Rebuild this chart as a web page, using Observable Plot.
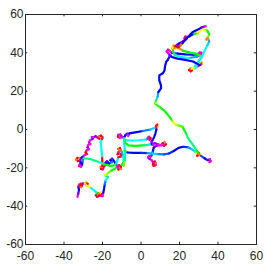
<!DOCTYPE html>
<html><head><meta charset="utf-8">
<script src="https://cdn.jsdelivr.net/npm/d3@7"></script>
<script src="https://cdn.jsdelivr.net/npm/@observablehq/plot@0.6"></script>
<style>body{margin:0;background:#fff} #chart svg{display:block}</style>
</head><body><div id="chart"></div>
<script>
const xTicks = [-60,-40,-20,0,20,40,60];
const yTicks = [-60,-40,-20,0,20,40,60];
// [x, y, hue]
const trackSW = [[-33,-35.2,300],[-32.6,-33.5,260],[-32.2,-31.5,240],[-32.5,-30,250],
[-32.2,-28.8,300],[-31.2,-28.3,330],[-30.6,-29.2,0],[-31.2,-30,30],[-31.8,-29.2,0],
[-30.2,-28.2,270],[-29.2,-28,60],[-28.3,-27.6,30],[-27.7,-28.4,0],[-28.5,-29,60],
[-26,-30.5,180],[-23.5,-32.5,180],
[-22.6,-33.2,120],[-23.5,-34.2,0],[-22.8,-35.2,330],[-21.8,-34.6,0],[-22,-33.4,30],[-21,-33,60],[-20.3,-33.6,0],[-20.8,-34.5,330],[-20,-34.8,300],
[-19.6,-33,240],[-19.2,-31,240],[-18.8,-28.5,210],[-18.3,-26.5,180],
[-17.2,-24.8,150],[-18.8,-23.8,60],[-17.4,-23,90],
[-15.5,-21.5,120],[-13.5,-20.5,120],
[-12.2,-19.2,0],[-11.4,-18.6,330],[-10.5,-19.3,0],[-10.7,-20.6,30],[-11.7,-20.9,0],[-12,-20,300]];
const trackW = [[-12,-20,300],[-13,-18,240],[-14.2,-16.2,240],[-15,-15.2,270],[-15.9,-16,240],[-15,-17,210],[-16.5,-17.8,240],[-17.6,-16.5,270],[-18.4,-17.2,240],[-17.5,-18.2,270],
[-19.2,-19,0],[-19.8,-20.8,330],[-20.8,-20.6,0],[-20.9,-19.5,30],[-20,-19.1,0],
[-20.2,-14,180],[-20.7,-9,180],[-21,-6,180],
[-20.2,-5,0],[-20,-4,330],[-20.8,-3.2,0],[-21.8,-3.6,30],[-21.6,-4.8,0],[-22.5,-4.3,330],
[-23.6,-3.5,270],[-24.8,-4.2,300],[-25.6,-3.8,300],[-25.2,-5,270],[-26.3,-5.5,300],[-27,-6.7,280],[-26.3,-7.6,300],[-27.4,-8,300],[-27.8,-9.3,270],[-27.1,-10.3,300],[-28.2,-10.8,330],[-28.8,-12,0],[-28,-12.8,330],[-29.3,-13.3,300],
[-30.5,-14.4,240],[-31.3,-15.2,270],[-32.2,-15,30],[-33.1,-14.8,0],[-33.6,-15.8,30],[-32.8,-16.5,0],[-31.7,-16.2,270],[-31.3,-17.2,240],[-31.8,-18.2,300],[-32.2,-19.1,330],[-31.2,-19.4,300],[-30.6,-18.4,240],[-30.4,-16.5,210],[-29.8,-15,150],
[-26,-15.5,150],[-22,-17,170],[-19.2,-18.1,180]];
const trackMid = [[-19.2,-18.1,120],[-15.8,-19,120],[-13.5,-18.6,150],[-12.5,-17,180],
[-11.8,-14.5,0],[-10.6,-14.2,330],[-10.4,-13,0],[-11.4,-12.3,30],[-12.2,-13,0],[-11.6,-11.6,300],[-10.6,-10.8,330],[-10.9,-9.7,0],[-11.8,-10.2,30],
[-10,-11.5,200],[-9.2,-14,180],[-9,-17,120],[-10,-18.5,120],[-9,-18.8,90],[-8.4,-16,150],[-8.3,-13,180],
[-8.5,-10,180],[-8.8,-6,180],[-8.9,-4.2,200],
[-10.2,-3.5,270],[-10.8,-2.6,300],[-11.8,-2.8,330],[-12,-3.8,0],[-11,-4.3,300],
[-8.7,-4,240],[-8,-2.8,250],[-7.2,-2.2,270],[-6.4,-2.6,300],[-6.7,-3.4,300],[-6,-2,270]];
const trackCenter = [[-6,-2,240],[-3,-1.5,240],[1,-0.8,210],[5,0,190],[7.5,1,180],
[8.8,1.5,60],[8.5,2.6,0],[7.9,2,330],
[8,0,240],[7.5,-2,240],[6.8,-4,240],[6,-5.5,250],
[5.5,-6.5,270],[5.5,-7.8,300],[6.5,-8.2,300],[7,-7,270],
[9,-7.8,300],[10.5,-8.2,330],[11.2,-7.2,0],[12.3,-6.8,30],[13,-7.8,0],[12,-8.5,330],[11,-8,300],
[8,-8.5,270],[6.6,-9.5,240],[6,-12,210],[5.5,-13.5,270],
[5,-14.2,300],[4.3,-13.8,330],[3.6,-14.5,300],[4.3,-15.2,270],
[5.5,-16,300],[6.2,-17,330],[7.2,-16.7,0],[7.6,-17.6,30],[7.3,-18.7,0],[6.5,-19,330],[6.2,-18,0],[7.6,-18.5,300]];
const trackCyan = [[-8.7,-5.5,180],[-5,-5.8,180],[-1,-5.6,180],[2.8,-5.2,190],[3.5,-4.3,300],[4.2,-3.8,330],[5,-4.5,0],[4.5,-5.4,330],[3.6,-5,300]];
const trackGreen = [[-8.8,-4.5,150],[-8.2,-7,120],[-6.5,-8.3,120],[-3,-8.5,120],[1,-8.3,150],[4,-8,180],[5.5,-7.5,240]];
const trackEast = [[-8.5,-11,120],[-7,-12,240],[-4,-12.2,240],[0,-12.2,230],[3.5,-12.3,200],[6,-12.6,190],[9,-12.8,210],[12,-13,220],[14.5,-12.5,230],[17,-11.2,240],[19.5,-9.6,240],[22,-9,230],[24.5,-9.3,200],[26.5,-10.3,190],[28,-11.5,180],
[28.8,-12.2,60],[29.3,-11.8,30],[30.2,-12.3,0],[30.1,-13.4,330],[29.2,-13.6,0],[29.8,-12.8,30],
[31.2,-13.8,220],[33,-15,240],[34.5,-16,260],[35.8,-15.6,300],[36.2,-16.5,330],[35.6,-17,300]];
const trackNorth = [[30,-12.3,120],[28.6,-10.5,150],[27,-8,150],[25.5,-6,150],[24.4,-4.5,150],[23.4,-2,120],[22.6,-0.5,120],[21.5,1.5,100],[19.5,2.1,90],[18,2.5,60],[17.2,3.2,60],[16.2,4.5,90],[15.6,5.6,120],[13.8,7.8,120],[12.1,9.9,120],[10,11.5,110],[7.3,13.4,90],[7.8,15.1,150],[8.6,17,200],[9,19.5,240],[10.4,21.5,240],[10.4,23,240],[9.5,25.6,240],[9.5,28.2,240],[11.5,29.5,240],[12.2,30.8,240],[12.5,33,240],[13,35.1,240],[14,36.5,250],[15,38.3,270]];
const trackTop = [[15,38.3,270],[14.2,39.8,300],[13.2,40.6,300],[14,41.6,330],[15,41,300],[16,40,270],
[19,39.6,240],[23,39.2,240],[27,39,250],[29.5,39.2,270],[30.5,40.2,300],[31.5,40,330],[31.3,39,300],
[29,38,200],[25,37.3,180],[21,37.8,170],[17.5,38.8,150],[16.8,40.5,120],
[16.2,42.5,60],[16.8,43.8,30],[17.8,43.5,0],[17.5,42.5,30],[18.5,42.6,60],[19.3,43.5,0],[18.8,44.2,330],[18.2,43.4,0],[19.6,42.5,30],
[22,41,120],[26,40,120],[29,39.5,120],[31,38.3,150],
[31,37,180],[30,36,150],[29.8,35,120],[30.7,34.5,60],[31.5,35,30],[31.3,34,0],[30.5,33.6,330],
[29,32.5,180],[27.5,31.5,60],[26.5,30.8,0],[25.8,30.4,330],[25,31,0],[25.6,31.8,30],[26.5,31.7,60],
[28,33,180],[30,35.5,180],[31.5,37.5,180],[33,41,180],[34.5,44,190],[35.4,45.8,200],
[35,47,30],[34.3,47.6,60],[33.9,46.9,30],
[35,48.5,90],[35.4,49.8,120],[34.8,51,120],[34,52,90],
[33,51.8,60],[32.3,52.5,60],[31,52,60],[30.3,51,60],[29.6,50.2,90],[29,50.6,60],[28.5,50,120],
[26.7,49.5,240],[24.5,48.3,270],
[23.8,48.3,300],[23,48.5,330],[22.6,47.6,0],[23.3,47,330],[23.9,47.5,300],
[22,46.2,270],[20,45,240],[18.5,44,270],[19.5,43.2,0],[20.5,43.8,30],
[21.5,45,240],[23,46.8,240],[25,48.8,240],[26.7,50.7,240],[29.3,52,240],[31.5,53.3,270],[33.5,53.9,300]];
const trackBack = [[30.5,33.6,240],[27,35.5,240],[23,36.3,240],[19,37,240],[16,37.8,240],[15.2,38.8,270]];

const tracks = [trackSW, trackW, trackMid, trackCenter, trackCyan, trackGreen, trackEast, trackNorth, trackTop, trackBack];
const data = tracks.flatMap((t, i) => t.map(([x, y, h]) => ({x, y, h, seg: i})));

const W = 269, H = 266, mL = 25, mR = 13, mT = 14, mB = 22;
const plotW = W - mL - mR, plotH = H - mT - mB;
const tl = 2.3;
const inner = xTicks.slice(1, -1);
const axisColor = "#262626";

const chart = Plot.plot({
  width: W, height: H,
  marginLeft: mL, marginRight: mR, marginTop: mT, marginBottom: mB,
  style: {background: "#fff", fontFamily: "'Liberation Sans', Arial, Helvetica, sans-serif", fontSize: "12px", color: axisColor},
  x: {domain: [-60, 60], label: null},
  y: {domain: [-60, 60], label: null},
  color: {type: "identity"},
  marks: [
    Plot.line(data, {x: "x", y: "y", z: "seg", stroke: d => d3.hsl(d.h, 1, 0.5).formatHex(), strokeWidth: 2.2, strokeLinecap: "round", strokeLinejoin: "round"}),
    Plot.tickX(inner, {x: d => d, insetTop: plotH - tl, stroke: axisColor}),
    Plot.tickX(inner, {x: d => d, insetBottom: plotH - tl, stroke: axisColor}),
    Plot.tickY(inner, {y: d => d, insetRight: plotW - tl, stroke: axisColor}),
    Plot.tickY(inner, {y: d => d, insetLeft: plotW - tl, stroke: axisColor}),
    Plot.frame({stroke: axisColor}),
    Plot.axisX(xTicks, {tickSize: 0, tickPadding: 7, tickFormat: d => String(d), fontSize: 12}),
    Plot.axisY(yTicks, {tickSize: 0, tickPadding: 2, tickFormat: d => String(d), fontSize: 12})
  ]
});
document.getElementById("chart").append(chart);
</script>
</body></html>
